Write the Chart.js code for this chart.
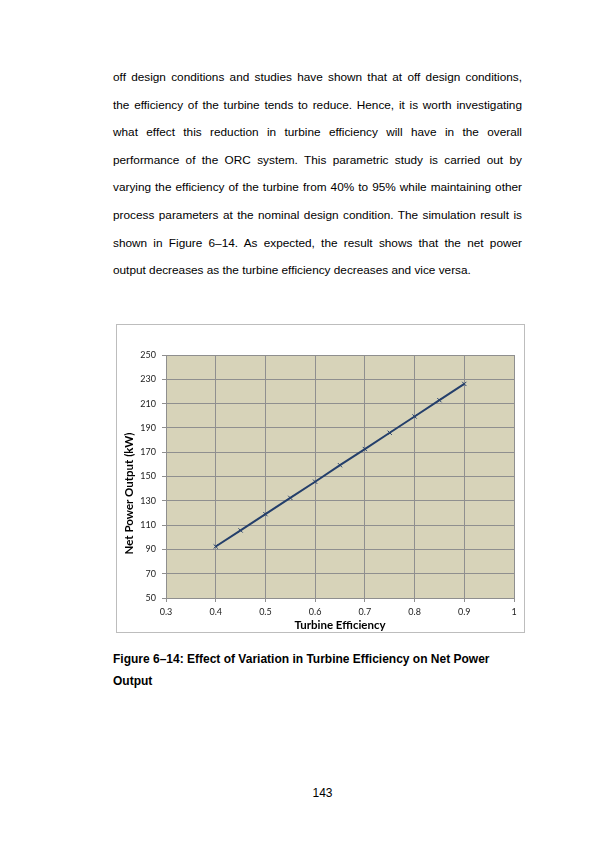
<!DOCTYPE html>
<html>
<head>
<meta charset="utf-8">
<script src="https://cdn.jsdelivr.net/npm/chart.js@4"></script>
<style>
	body { margin: 0; background: #fff; width: 595px; height: 842px; position: relative; font-family: 'Liberation Sans', Arial, sans-serif; color: #000; }
	.para { position: absolute; left: 113px; top: 64px; width: 409px; font-size: 11.8px; line-height: 27.6px; }
	.para div { text-align: justify; text-align-last: justify; white-space: nowrap; }
	.para div.last { text-align-last: left; }
	#frame { position: absolute; left: 116px; top: 324px; width: 407px; height: 307px; border: 1px solid #bdbdbd; background: #fff; }
	#chart { display: block; }
	.caption { position: absolute; left: 113px; top: 648px; width: 440px; font-size: 12px; font-weight: bold; line-height: 22px; }
	.pageno { position: absolute; left: 0; width: 645px; top: 786px; text-align: center; font-size: 12px; }
</style>
</head>
<body>
<div class="para">
	<div>off design conditions and studies have shown that at off design conditions,</div>
	<div>the efficiency of the turbine tends to reduce. Hence, it is worth investigating</div>
	<div>what effect this reduction in turbine efficiency will have in the overall</div>
	<div>performance of the ORC system. This parametric study is carried out by</div>
	<div>varying the efficiency of the turbine from 40% to 95% while maintaining other</div>
	<div>process parameters at the nominal design condition. The simulation result is</div>
	<div>shown in Figure 6–14. As expected, the result shows that the net power</div>
	<div class="last">output decreases as the turbine efficiency decreases and vice versa.</div>
</div>

<div id="frame"><canvas id="chart" width="407" height="307"></canvas></div>

<div class="caption">Figure 6–14: Effect of Variation in Turbine Efficiency on Net Power<br>Output</div>
<div class="pageno">143</div>

<script>
// turbine efficiency vs net power output (kW)
const efficiency = [0.4, 0.45, 0.5, 0.55, 0.6, 0.65, 0.7, 0.75, 0.8, 0.85, 0.9];
const netPower = [92.4, 105.6, 119.0, 132.4, 145.7, 159.3, 172.6, 186.0, 199.4, 212.8, 226.2];

const xTicks = { min: 0.3, max: 1, step: 0.1 };
const yTicks = { min: 50, max: 250, step: 20 };
const yTitle = 'Net Power Output (kW)';

const points = efficiency.map((e, i) => ({ x: e, y: netPower[i] }));

const plotBackground = {
	id: 'plotBackground',
	beforeDraw(chart) {
		const { ctx, chartArea } = chart;
		ctx.save();
		ctx.fillStyle = '#d7d3b9';
		ctx.fillRect(chartArea.left, chartArea.top, chartArea.right - chartArea.left, chartArea.bottom - chartArea.top);
		ctx.restore();
	},
};

// excel puts the y title a little below the middle of the plot
const yAxisTitle = {
	id: 'yAxisTitle',
	afterDraw(chart) {
		const { ctx, chartArea } = chart;
		const ys = chart.scales.y;
		ctx.save();
		ctx.translate(ys.left + 12, (chartArea.top + chartArea.bottom) / 2 + 17);
		ctx.rotate(-Math.PI / 2);
		ctx.font = 'bold 11.5px Lato';
		ctx.fillStyle = '#000';
		ctx.textAlign = 'center';
		ctx.textBaseline = 'middle';
		ctx.fillText(yTitle, 0, 0);
		ctx.restore();
	},
};

const config = {
	type: 'scatter',
	data: {
		datasets: [
			{
				data: points,
				showLine: true,
				borderColor: '#243f6b',
				borderWidth: 2,
				pointStyle: 'crossRot',
				pointRadius: 3,
				pointBorderWidth: 1,
				pointBorderColor: '#243f6b',
				pointBackgroundColor: '#243f6b',
			},
		],
	},
	options: {
		responsive: false,
		animation: false,
		events: [],
		layout: { padding: { left: 0, top: 30, right: 10, bottom: 0 } },
		plugins: { legend: { display: false }, tooltip: { enabled: false } },
		scales: {
			x: {
				type: 'linear',
				min: xTicks.min,
				max: xTicks.max,
				afterFit(scale) { scale.height = 34; },
				ticks: {
					stepSize: xTicks.step,
					padding: 5,
					color: '#222',
					font: { family: 'Lato', size: 9 },
					callback: (v) => String(Math.round(v * 10) / 10),
				},
				grid: { color: '#8f8f8f', lineWidth: 1, tickLength: 4, tickColor: '#8f8f8f' },
				border: { color: '#8f8f8f' },
				title: { display: true, text: 'Turbine Efficiency', color: '#000', padding: { top: 0, bottom: 0 }, font: { family: 'Lato', size: 11.5, weight: 'bold' } },
			},
			y: {
				min: yTicks.min,
				max: yTicks.max,
				afterFit(scale) { scale.width = 49; },
				ticks: { stepSize: yTicks.step, padding: 6, color: '#222', font: { family: 'Lato', size: 9 } },
				grid: { color: '#8f8f8f', lineWidth: 1, tickLength: 4, tickColor: '#8f8f8f' },
				border: { color: '#8f8f8f' },
				title: { display: false },
			},
		},
	},
	plugins: [plotBackground, yAxisTitle],
};

function renderChart() {
	const chartCanvas = document.getElementById('chart');
	new Chart(chartCanvas, config);
}

renderChart();
</script>
</body>
</html>
